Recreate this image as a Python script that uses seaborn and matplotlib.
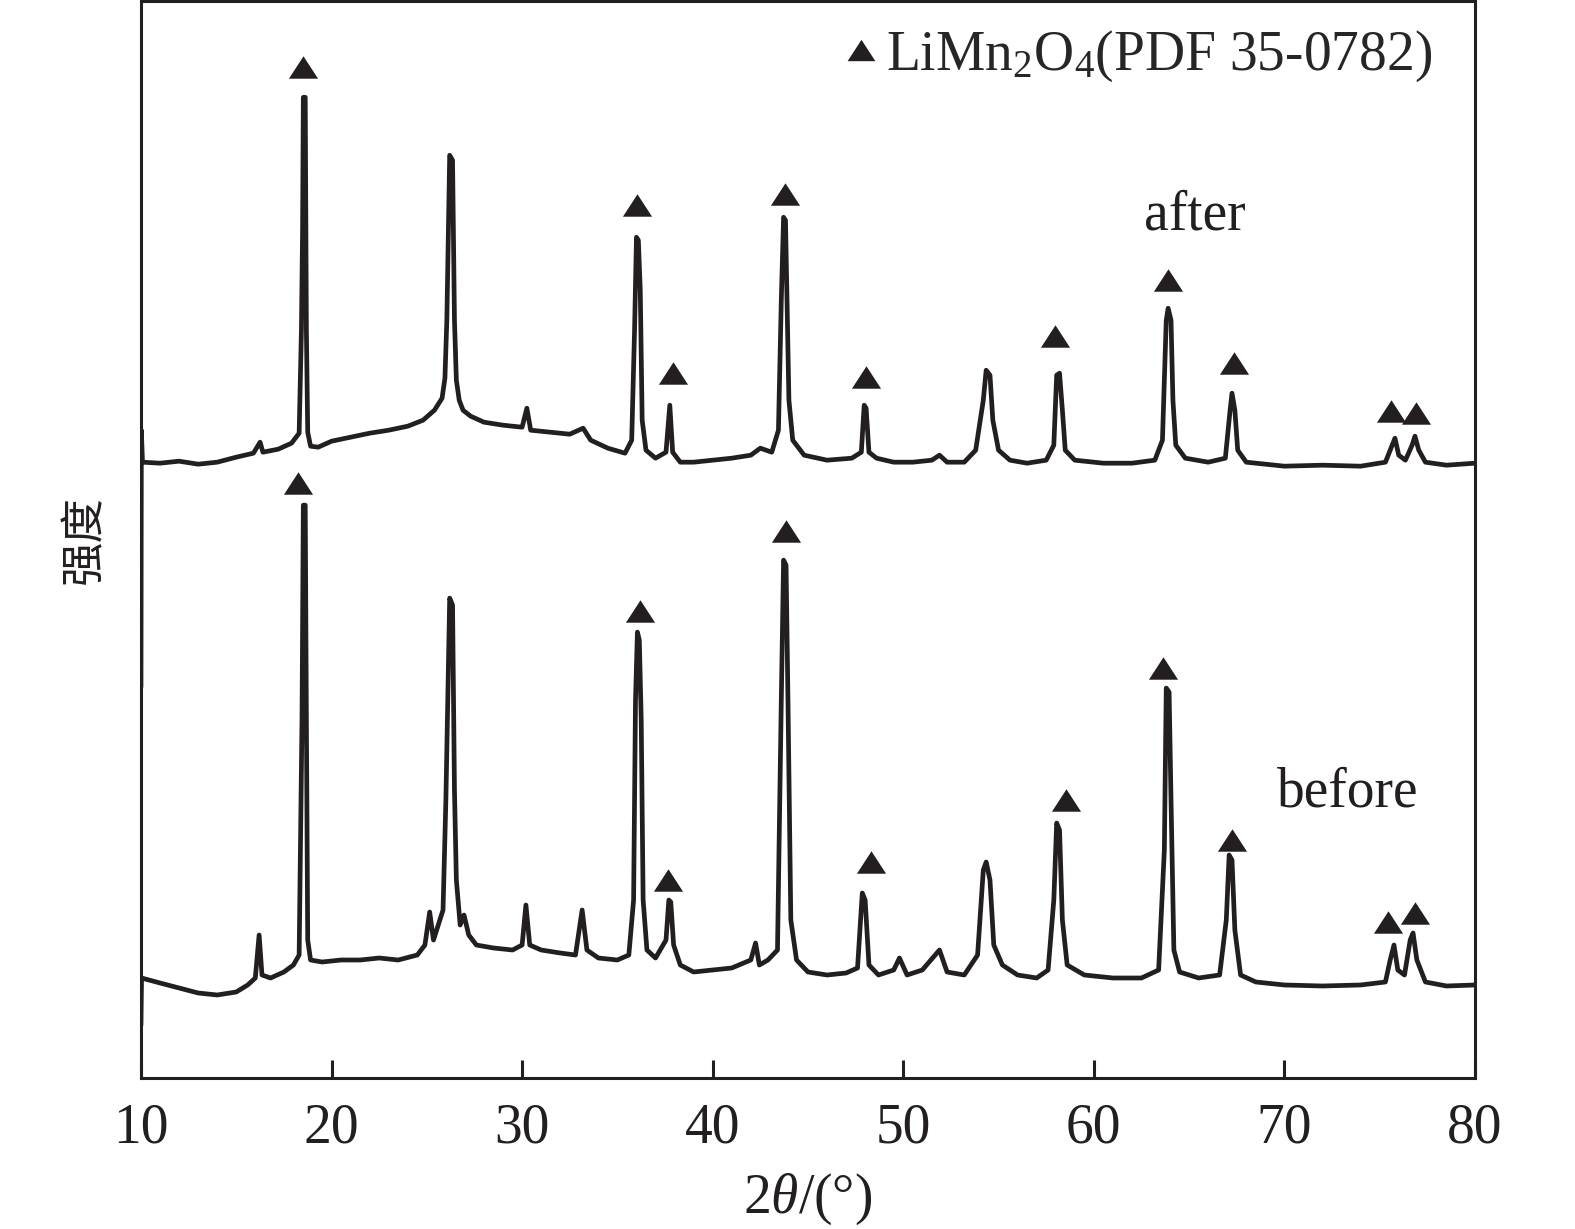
import matplotlib
matplotlib.use("Agg")
import matplotlib.pyplot as plt
import seaborn as sns
import pandas as pd
from matplotlib.lines import Line2D

# XRD patterns (2theta in degrees, intensity in a.u.)
after_2theta = [
    10.00, 10.02, 10.08, 11.0, 12.0, 13.0, 14.0, 15.0, 15.9, 16.25, 16.4, 17.2, 17.9,
    18.3, 18.42, 18.48, 18.52, 18.62, 18.68, 18.75, 18.9,
    19.3, 20.0, 21.0, 22.0, 23.0, 24.0, 24.8, 25.4, 25.8,
    25.95, 26.05, 26.2, 26.35, 26.45, 26.55, 26.7, 26.9,
    27.3, 28.0, 29.0, 30.0, 30.25, 30.45, 31.5, 32.5, 33.2, 33.6, 34.5, 35.4,
    35.75, 35.9, 36.0, 36.1, 36.2, 36.3, 36.5,
    37.0, 37.55, 37.75, 37.9, 38.3, 39.0, 40.0, 41.0, 42.0, 42.5, 43.1,
    43.45, 43.6, 43.72, 43.82, 43.9, 44.0, 44.2, 44.8,
    46.0, 47.3, 47.8, 47.95, 48.05, 48.2, 48.6, 49.5, 50.5, 51.5, 51.9, 52.3, 53.2,
    53.8, 54.2, 54.35, 54.55, 54.7, 55.0, 55.6, 56.5,
    57.5, 57.9, 58.05, 58.2, 58.35, 58.5, 59.0, 60.5, 62.0,
    63.2, 63.6, 63.8, 63.9, 64.05, 64.15, 64.3, 64.8,
    66.0, 66.9, 67.15, 67.25, 67.4, 67.55, 68.0, 70.0, 72.0, 74.0,
    75.3, 75.65, 75.8, 76.0, 76.35, 76.7, 76.85, 77.05, 77.4, 78.5, 80.0,
]
after_counts = [
    391, 648, 616, 615, 617, 614, 616, 621, 625, 636, 626, 629, 635,
    645, 748, 848, 981, 981, 748, 646, 632,
    631, 637, 641, 645, 648, 652, 658, 668, 680,
    700, 758, 923, 918, 758, 698, 678, 668,
    662, 656, 653, 651, 670, 648, 646, 644, 650, 638, 630, 625,
    638, 748, 841, 838, 788, 658, 628,
    620, 626, 673, 626, 616, 616, 618, 620, 623, 630, 626,
    648, 778, 861, 858, 778, 678, 638, 623,
    618, 620, 626, 673, 670, 626, 620, 616, 616, 618, 623, 616, 616,
    628, 678, 708, 703, 658, 628, 618, 615,
    618, 633, 703, 705, 668, 628, 618, 615, 615,
    618, 638, 758, 770, 758, 678, 633, 620,
    616, 620, 668, 685, 668, 628, 616, 612, 613, 612,
    616, 633, 640, 623, 618, 633, 642, 628, 616, 613, 615,
]

before_2theta = [
    10.00, 10.03, 11.0, 12.0, 13.0, 14.0, 15.0, 15.6, 16.0, 16.2, 16.35, 16.8, 17.5,
    18.0, 18.3, 18.45, 18.52, 18.62, 18.68, 18.75, 18.9,
    19.5, 20.5, 21.5, 22.5, 23.5, 24.5, 24.9, 25.15, 25.35, 25.6, 25.85,
    26.0, 26.1, 26.2, 26.35, 26.45, 26.55, 26.75, 26.95, 27.2, 27.6,
    28.5, 29.5, 30.0, 30.2, 30.4, 31.0, 32.0, 32.8, 33.15, 33.4, 34.0, 35.0,
    35.6, 35.85, 35.95, 36.05, 36.15, 36.25, 36.35, 36.55,
    37.0, 37.55, 37.7, 37.8, 37.95, 38.3, 39.0, 40.0, 41.0, 42.0, 42.25, 42.45, 42.9,
    43.4, 43.6, 43.72, 43.85, 43.95, 44.1, 44.4,
    45.0, 46.0, 47.0, 47.6, 47.85, 48.0, 48.2, 48.7, 49.5, 49.8, 50.2, 51.0, 51.9, 52.3, 53.2,
    53.9, 54.2, 54.35, 54.55, 54.75, 55.2, 56.0,
    57.0, 57.6, 57.9, 58.05, 58.2, 58.35, 58.6, 59.5, 61.0, 62.5,
    63.4, 63.7, 63.8, 63.95, 64.05, 64.2, 64.5,
    65.5, 66.6, 66.95, 67.1, 67.25, 67.4, 67.7, 68.5, 70.0, 72.0, 74.0,
    75.3, 75.55, 75.75, 75.95, 76.3, 76.6, 76.75, 76.95, 77.4, 78.5, 80.0,
]
before_counts = [
    53, 100, 95, 90, 85, 83, 86, 93, 100, 143, 103, 100, 106,
    113, 123, 358, 573, 573, 358, 138, 118,
    116, 118, 118, 120, 118, 123, 133, 166, 138, 153, 168,
    278, 378, 480, 473, 288, 198, 153, 163, 143, 133,
    130, 128, 133, 173, 133, 128, 125, 123, 168, 128, 120, 118,
    123, 178, 378, 446, 438, 358, 178, 128,
    120, 138, 178, 176, 133, 113, 106, 108, 110, 118, 135, 113, 118,
    128, 378, 518, 513, 378, 158, 118,
    106, 103, 105, 110, 185, 178, 113, 103, 108, 120, 103, 108, 128, 106, 103,
    123, 208, 216, 198, 133, 113, 103,
    100, 108, 178, 255, 248, 158, 113, 103, 100, 100,
    108, 228, 390, 386, 278, 128, 106,
    100, 103, 158, 223, 218, 148, 103, 96, 93, 92, 93,
    96, 118, 133, 108, 103, 138, 145, 118, 96, 92, 93,
]

# LiMn2O4 reflection markers (triangles above peaks)
after_tri_2theta = [18.5, 36.02, 37.9, 43.8, 48.04, 57.95, 63.88, 67.35, 75.6, 76.9]
after_tri_counts = [1011, 873, 705, 884, 701, 742, 798, 715, 667, 665]
before_tri_2theta = [18.24, 36.18, 37.65, 43.84, 48.3, 58.53, 63.62, 67.24, 75.43, 76.84]
before_tri_counts = [595, 467, 198, 547, 216, 278, 410, 238, 156, 165]

xticks = [10, 20, 30, 40, 50, 60, 70, 80]
ink = "#231f20"

after_df = pd.DataFrame({"2theta": after_2theta, "I": after_counts})
before_df = pd.DataFrame({"2theta": before_2theta, "I": before_counts})
tri_df = pd.DataFrame({
    "2theta": after_tri_2theta + before_tri_2theta,
    "I": after_tri_counts + before_tri_counts,
})

sns.set_style("ticks")
plt.rcParams["font.family"] = ["Liberation Serif", "Noto Sans CJK SC"]
plt.rcParams["mathtext.fontset"] = "custom"
plt.rcParams["mathtext.rm"] = "Liberation Serif"
plt.rcParams["mathtext.it"] = "Liberation Serif:italic"

tri = [(0, 1), (-1.3, -1), (1.3, -1), (0, 1)]

fig = plt.figure(figsize=(15.75, 12.29), dpi=100)
ax = fig.add_axes([0.0895, 0.1229, 0.847, 0.876])

sns.lineplot(data=after_df, x="2theta", y="I", ax=ax, color=ink, lw=3.4,
             sort=False, estimator=None)
sns.lineplot(data=before_df, x="2theta", y="I", ax=ax, color=ink, lw=3.4,
             sort=False, estimator=None)
sns.scatterplot(data=tri_df, x="2theta", y="I", ax=ax, marker=tri, s=441,
                color=ink, linewidth=0, zorder=3)

ax.text(65.3, 863, "after", fontsize=40, ha="center", va="center", color=ink)
ax.text(73.3, 286, "before", fontsize=40, ha="center", va="center", color=ink)

handle = Line2D([], [], marker=tri, ls="none", color=ink, ms=20, mew=0)
ax.legend([handle], ["LiMn$_2$O$_4$(PDF 35-0782)"], loc="upper right",
          bbox_to_anchor=(0.968, 0.975), frameon=False, fontsize=40,
          borderpad=0, borderaxespad=0, handletextpad=0.1, handlelength=0.7)

ax.set_xlim(10, 80)
ax.set_ylim(0, 1077)
ax.set_xticks(xticks)
ax.set_yticks([])
ax.tick_params(axis="x", direction="in", length=13, width=2.2, labelsize=40,
               pad=18, colors=ink)
for sp in ax.spines.values():
    sp.set_linewidth(2.2)
    sp.set_color(ink)

ax.set_xlabel("2$\\it{\\theta}$/(°)", fontsize=40, color=ink, labelpad=12)
ax.set_ylabel("强度", fontsize=32, color=ink, labelpad=24,
              family=["Noto Sans CJK SC", "DejaVu Sans"])

fig.savefig("out.png", dpi=100)
